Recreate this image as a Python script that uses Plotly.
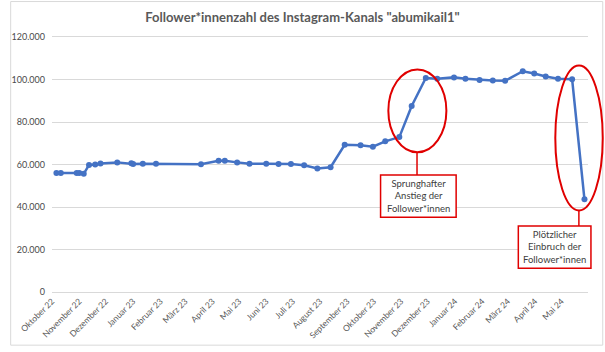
import plotly.graph_objects as go

dates = [
    "2022-10-06", "2022-10-11", "2022-10-29", "2022-11-01", "2022-11-06",
    "2022-11-12", "2022-11-19", "2022-11-25", "2022-12-14", "2022-12-30",
    "2023-01-01", "2023-01-12", "2023-01-27", "2023-03-19", "2023-04-08",
    "2023-04-15", "2023-04-29", "2023-05-13", "2023-06-01", "2023-06-15",
    "2023-06-29", "2023-07-14", "2023-07-29", "2023-08-13", "2023-08-29",
    "2023-09-16", "2023-09-30", "2023-10-14", "2023-10-30", "2023-11-13",
    "2023-11-29", "2023-12-12", "2023-12-31", "2024-01-13", "2024-01-29",
    "2024-02-13", "2024-02-27", "2024-03-18", "2024-03-31", "2024-04-13",
    "2024-04-27", "2024-05-13", "2024-05-27",
]
followers = [
    56000, 56000, 56000, 56000, 55600,
    59800, 60000, 60500, 61000, 60600,
    60200, 60300, 60300, 60100, 61800,
    61800, 61000, 60400, 60300, 60200,
    60200, 59600, 58100, 58700, 69300,
    69100, 68400, 70900, 72900, 87500,
    100700, 100300, 101000, 100300, 99800,
    99500, 99400, 103900, 102800, 101400,
    100400, 100100, 43600,
]
tick_dates = [
    "2022-10-01", "2022-11-01", "2022-12-01", "2023-01-01", "2023-02-01",
    "2023-03-01", "2023-04-01", "2023-05-01", "2023-06-01", "2023-07-01",
    "2023-08-01", "2023-09-01", "2023-10-01", "2023-11-01", "2023-12-01",
    "2024-01-01", "2024-02-01", "2024-03-01", "2024-04-01", "2024-05-01",
]
tick_labels = [
    "Oktober 22", "November 22", "Dezember 22", "Januar 23", "Februar 23",
    "März 23", "April 23", "Mai 23", "Juni 23", "Juli 23",
    "August 23", "September 23", "Oktober 23", "November 23", "Dezember 23",
    "Januar 24", "Februar 24", "März 24", "April 24", "Mai 24",
]
y_ticks = [0, 20000, 40000, 60000, 80000, 100000, 120000]

title_text = 'Follower*innenzahl des Instagram-Kanals "abumikail1"'
note1 = "Sprunghafter<br>Anstieg der<br>Follower*innen"
note2 = "Plötzlicher<br>Einbruch der<br>Follower*innen"

BLUE = "#4472C4"
RED = "#E00000"
GRID = "#D9D9D9"
TXT = "#595959"
FONT = "Lato"

fig = go.Figure()
fig.add_trace(go.Scatter(
    x=dates, y=followers, mode="lines+markers",
    line=dict(color=BLUE, width=2.5),
    marker=dict(color=BLUE, size=6),
    hoverinfo="x+y", showlegend=False,
))

shapes = [
    # outer frame
    dict(type="rect", xref="paper", yref="paper", x0=-0.0771, x1=1.0275, y0=-0.2085, y1=1.139,
         line=dict(color=GRID, width=1), layer="below"),
    # ellipse 1
    dict(type="circle", xref="paper", yref="paper", x0=0.6275, x1=0.7358, y0=0.548, y1=0.873,
         line=dict(color=RED, width=2)),
    dict(type="line", xref="paper", yref="paper", x0=0.681, x1=0.681, y0=0.548, y1=0.459,
         line=dict(color=RED, width=1.5)),
    dict(type="rect", xref="paper", yref="paper", x0=0.613, x1=0.754, y0=0.293, y1=0.459,
         line=dict(color=RED, width=1.5), fillcolor="white"),
    # ellipse 2
    dict(type="circle", xref="paper", yref="paper", x0=0.939, x1=1.0275, y0=0.320, y1=0.888,
         line=dict(color=RED, width=2)),
    dict(type="line", xref="paper", yref="paper", x0=0.983, x1=0.983, y0=0.320, y1=0.259,
         line=dict(color=RED, width=1.5)),
    dict(type="rect", xref="paper", yref="paper", x0=0.870, x1=1.0055, y0=0.093, y1=0.259,
         line=dict(color=RED, width=1.5), fillcolor="white"),
]

annotations = [
    dict(xref="paper", yref="paper", x=0.6835, y=0.376, text=note1, showarrow=False,
         xanchor="center", yanchor="middle",
         font=dict(family=FONT, size=9.5, color="#404040"), align="center"),
    dict(xref="paper", yref="paper", x=0.9378, y=0.176, text=note2, showarrow=False,
         xanchor="center", yanchor="middle",
         font=dict(family=FONT, size=9.5, color="#404040"), align="center"),
]

fig.update_layout(
    width=605, height=352,
    margin=dict(l=43, r=17, t=37, b=56),
    paper_bgcolor="white", plot_bgcolor="white",
    separators=",.",
    title=dict(text=title_text, x=0.5, xanchor="center", y=0.95, yanchor="middle",
               font=dict(family=FONT, size=13, color=TXT, weight="bold")),
    xaxis=dict(type="date", range=["2022-10-01", "2024-05-31"],
               tickvals=tick_dates, ticktext=tick_labels, tickangle=-45,
               showgrid=False, showline=True, mirror=True, linecolor=GRID, linewidth=1,
               zeroline=False, ticks="",
               tickfont=dict(family=FONT, size=8.5, color=TXT)),
    yaxis=dict(range=[0, 120000], tickvals=y_ticks, tickformat=",d",
               showgrid=True, gridcolor=GRID, gridwidth=1, zeroline=False,
               showline=False, ticks="", ticklabelstandoff=6,
               tickfont=dict(family=FONT, size=9, color="#4a4a4a")),
    shapes=shapes, annotations=annotations,
    font=dict(family=FONT, color=TXT),
)

fig.write_html("out.html")
